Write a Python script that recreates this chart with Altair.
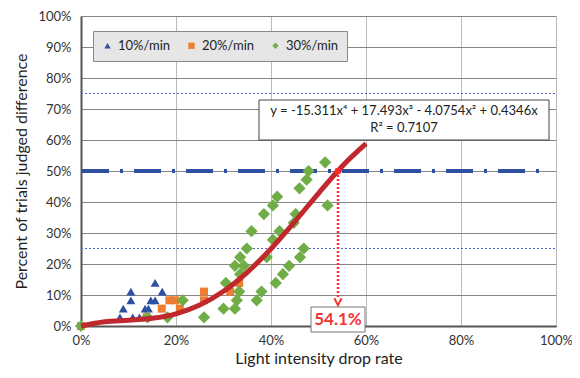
import altair as alt
import pandas as pd

# ---- data ----
blue_x = [0.082, 0.089, 0.105, 0.105, 0.109, 0.123, 0.135, 0.142, 0.147, 0.156, 0.156, 0.171]
blue_y = [0.028, 0.056, 0.083, 0.111, 0.028, 0.028, 0.056, 0.056, 0.083, 0.083, 0.139, 0.111]

orange_x = [0.0, 0.138, 0.170, 0.186, 0.198, 0.208, 0.259, 0.259, 0.314, 0.333]
orange_y = [0.0, 0.028, 0.056, 0.083, 0.083, 0.056, 0.111, 0.083, 0.111, 0.139]

green_x = [0.0, 0.140, 0.182, 0.214, 0.259, 0.300, 0.305, 0.324, 0.328, 0.333,
           0.324, 0.335, 0.343, 0.335, 0.349, 0.359, 0.370, 0.380, 0.385, 0.391,
           0.404, 0.404, 0.410, 0.413, 0.418, 0.425, 0.438, 0.448, 0.452, 0.460,
           0.461, 0.469, 0.475, 0.479, 0.514, 0.519]
green_y = [0.0, 0.028, 0.028, 0.083, 0.028, 0.056, 0.139, 0.056, 0.083, 0.111,
           0.194, 0.167, 0.194, 0.222, 0.250, 0.306, 0.083, 0.111, 0.361, 0.222,
           0.389, 0.278, 0.139, 0.417, 0.306, 0.167, 0.194, 0.333, 0.361, 0.444,
           0.222, 0.250, 0.472, 0.500, 0.528, 0.389]

series_names = ["10%/min", "20%/min", "30%/min"]
series_colors = ["#2F4FA2", "#ED7D31", "#70AD47"]
series_shapes = ["triangle-up", "square", "diamond"]
series_sizes = [80, 64, 150]

trend_x = [0.0, 0.05, 0.10, 0.15, 0.20, 0.25, 0.30, 0.35, 0.40, 0.45, 0.50, 0.55, 0.60]
trend_y = [0.0, 0.0136, 0.0187, 0.0248, 0.0393, 0.0675, 0.1119, 0.1731, 0.2494, 0.3365, 0.4281, 0.5156, 0.5880]

threshold_x = 0.541
threshold_y = 0.50
arrow_end_y = 0.078
ref_lines = [0.25, 0.75]

x_ticks = [0, 0.2, 0.4, 0.6, 0.8, 1.0]
y_ticks = [0, 0.1, 0.2, 0.3, 0.4, 0.5, 0.6, 0.7, 0.8, 0.9, 1.0]

eq_line1 = "y = -15.311x\u2074 + 17.493x\u00b3 - 4.0754x\u00b2 + 0.4346x"
eq_line2 = "R\u00b2 = 0.7107"
thr_label = "54.1%"

FONT = "Lato"

trend_df = pd.DataFrame({"x": trend_x, "y": trend_y})

xscale = alt.Scale(domain=[0, 1], nice=False)
yscale = alt.Scale(domain=[0, 1], nice=False)

xaxis = alt.Axis(format=".0%", values=x_ticks, title="Light intensity drop rate",
                 grid=True, gridColor="#BBBBBB", gridWidth=1, ticks=False, labelPadding=8,
                 labelFlush=False, labelOverlap=False,
                 domainColor="#555555", domainWidth=2, labelFont=FONT, labelFontSize=13,
                 labelColor="#333333", titleFont=FONT, titleFontSize=16, titleFontWeight="normal",
                 titleColor="#222222", titlePadding=3)
yaxis = alt.Axis(format=".0%", values=y_ticks, title="Percent of trials judged difference",
                 grid=True, gridColor="#858585", gridWidth=1, ticks=False, labelPadding=10,
                 labelFlush=False, labelOverlap=False,
                 domainColor="#555555", domainWidth=2, labelFont=FONT, labelFontSize=13,
                 labelColor="#333333", titleFont=FONT, titleFontSize=16, titleFontWeight="normal",
                 titleColor="#222222", titlePadding=8)


def xd(v):
    return alt.datum(v, type="quantitative", scale=xscale, axis=xaxis)


def yd(v):
    return alt.datum(v, type="quantitative", scale=yscale, axis=yaxis)


one = alt.Data(values=[{}])

# reference lines
dashed = alt.Chart(pd.DataFrame({"y": ref_lines})).mark_rule(
    color="#4A62C8", strokeWidth=1, strokeDash=[2, 2]
).encode(y=alt.Y("y:Q", scale=yscale, axis=yaxis), x=alt.value(0), x2=alt.value(475))

dashdot = alt.Chart(one).mark_rule(
    color="#2F4FA2", strokeWidth=4, strokeDash=[27, 11, 3, 11]
).encode(y=yd(threshold_y), x=alt.value(1), x2=alt.value(466))

legend = alt.Legend(title=None, orient="none", legendX=12, legendY=15,
                    direction="horizontal", fillColor="#E6E6E6",
                    strokeColor="#8A8A8A", padding=8, symbolSize=40,
                    labelFont=FONT, labelFontSize=13, labelColor="#222222",
                    columnPadding=14, symbolStrokeWidth=0)

scatter_layers = []
for name, xs, ys, sz in zip(series_names, [blue_x, orange_x, green_x], [blue_y, orange_y, green_y], series_sizes):
    df = pd.DataFrame({"x": xs, "y": ys, "series": [name] * len(xs)})
    scatter_layers.append(
        alt.Chart(df).mark_point(filled=True, opacity=1, size=sz).encode(
            x=alt.X("x:Q", scale=xscale, axis=xaxis),
            y=alt.Y("y:Q", scale=yscale, axis=yaxis),
            color=alt.Color("series:N", scale=alt.Scale(domain=series_names, range=series_colors),
                            legend=legend),
            shape=alt.Shape("series:N", scale=alt.Scale(domain=series_names, range=series_shapes),
                            legend=legend),
        )
    )

trend = alt.Chart(trend_df).mark_line(color="#C0282D", strokeWidth=5, interpolate="monotone").encode(
    x=alt.X("x:Q", scale=xscale, axis=xaxis), y=alt.Y("y:Q", scale=yscale, axis=yaxis)
)

vline = alt.Chart(one).mark_rule(color="#F03535", strokeWidth=2.5, strokeDash=[2, 2]).encode(
    x=xd(threshold_x),
    y=yd(threshold_y),
    y2=alt.datum(arrow_end_y + 0.01),
)

arrow = alt.Chart(one).mark_point(shape="M-1,-1L0,1L1,-1", filled=False, color="#F03535",
                                  strokeWidth=2, size=50, opacity=1).encode(
    x=xd(threshold_x), y=yd(arrow_end_y),
)

dot = alt.Chart(one).mark_point(filled=True, color="#FF2A2A", size=45, opacity=1).encode(
    x=xd(threshold_x), y=yd(threshold_y),
)

eq_box = alt.Chart(one).mark_rect(fill="white", stroke="#444444", strokeWidth=1).encode(
    x=alt.value(178), x2=alt.value(468), y=alt.value(84), y2=alt.value(124)
)
eq_text1 = alt.Chart(one).mark_text(text=eq_line1, font=FONT, fontSize=13, color="#222222",
                                    align="center", baseline="middle").encode(
    x=alt.value(323), y=alt.value(95))
eq_text2 = alt.Chart(one).mark_text(text=eq_line2, font=FONT, fontSize=13, color="#222222",
                                    align="center", baseline="middle").encode(
    x=alt.value(323), y=alt.value(112))

thr_box = alt.Chart(one).mark_rect(fill="white", stroke="#777777", strokeWidth=1).encode(
    x=alt.value(230), x2=alt.value(284), y=alt.value(291), y2=alt.value(316)
)
thr_text = alt.Chart(one).mark_text(text=thr_label, font=FONT, fontSize=17, fontWeight="bold",
                                    color="#F03535", align="center", baseline="middle").encode(
    x=alt.value(257), y=alt.value(304))

chart = alt.layer(
    dashed, dashdot, *scatter_layers, trend, vline, arrow, dot, eq_box, eq_text1, eq_text2, thr_box, thr_text
).properties(
    width=475, height=310,
    autosize=alt.AutoSizeParams(type="none"),
    padding={"left": 73, "top": 8, "right": 16, "bottom": 50},
).configure_view(
    stroke="#444444", strokeWidth=1.5
).configure(background="white")

chart.save("out.html", embed_options={"renderer": "svg", "actions": False})
